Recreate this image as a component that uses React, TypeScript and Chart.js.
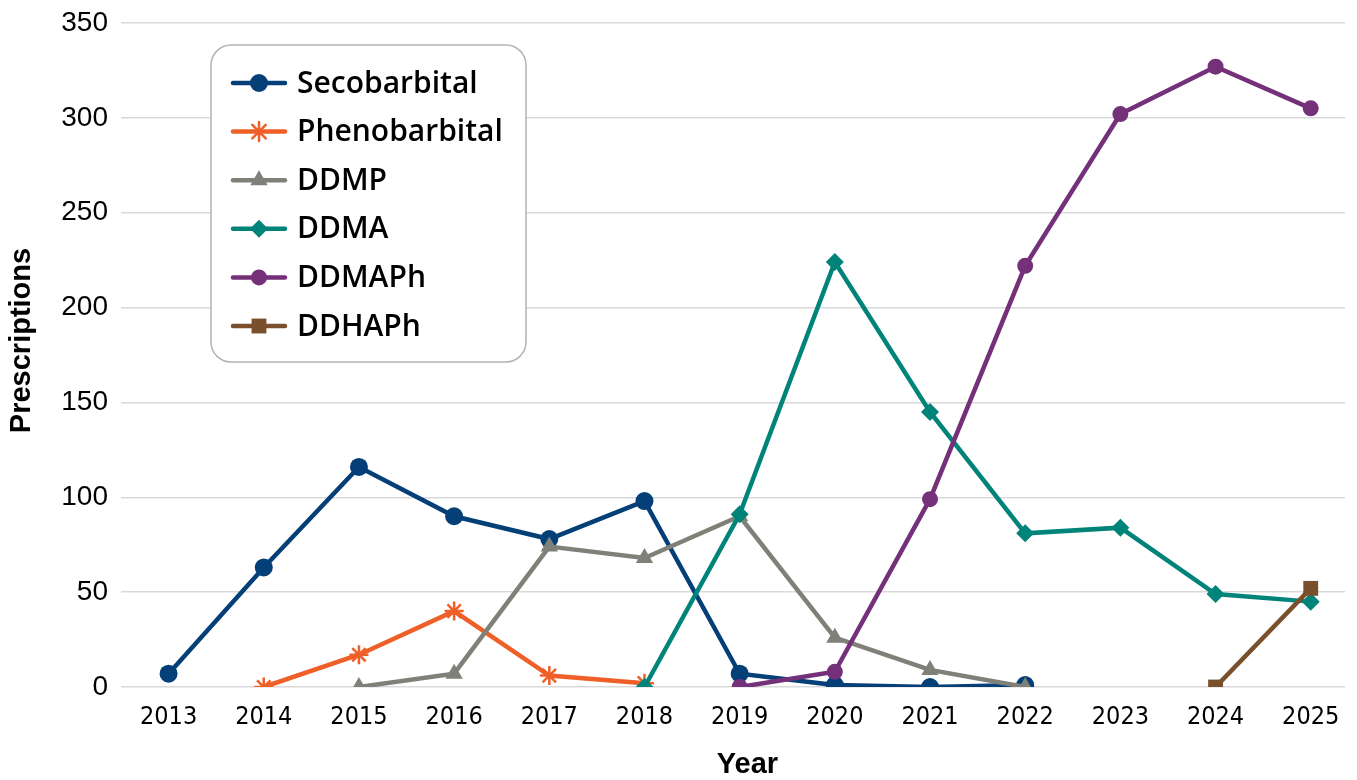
import React, { useEffect, useRef } from "react";
import { Chart, registerables } from "chart.js";

Chart.register(...registerables);

const years = [2013, 2014, 2015, 2016, 2017, 2018, 2019, 2020, 2021, 2022, 2023, 2024, 2025];
const secobarbital = [7, 63, 116, 90, 78, 98, 7, 1, 0, 1, null, null, null];
const phenobarbital = [null, 0, 17, 40, 6, 2, null, null, null, null, null, null, null];
const ddmp = [null, null, 0, 7, 74, 68, 90, 26, 9, 0, null, null, null];
const ddma = [null, null, null, null, null, 0, 91, 224, 145, 81, 84, 49, 45];
const ddmaph = [null, null, null, null, null, null, 0, 8, 99, 222, 302, 327, 305];
const ddhaph = [null, null, null, null, null, null, null, null, null, null, null, 0, 52];
const yTicks = [0, 50, 100, 150, 200, 250, 300, 350];

const seriesDefs = [
  { label: "Secobarbital", values: secobarbital, color: "#053f78", style: "circle", radius: 9 },
  { label: "Phenobarbital", values: phenobarbital, color: "#ef5f28", style: "star", radius: 9.5 },
  { label: "DDMP", values: ddmp, color: "#7f8077", style: "triangle", radius: 10 },
  { label: "DDMA", values: ddma, color: "#00847a", style: "rectRot", radius: 9 },
  { label: "DDMAPh", values: ddmaph, color: "#75307a", style: "circle", radius: 8 },
  { label: "DDHAPh", values: ddhaph, color: "#7a4f2b", style: "rect", radius: 10.5 },
];

function drawMarker(ctx: CanvasRenderingContext2D, style: string, x: number, y: number, r: number, color: string) {
  ctx.save();
  ctx.fillStyle = color;
  ctx.strokeStyle = color;
  ctx.beginPath();
  if (style === "circle") {
    ctx.arc(x, y, r, 0, Math.PI * 2);
    ctx.fill();
  } else if (style === "rect") {
    const s = Math.SQRT1_2 * r;
    ctx.rect(x - s, y - s, 2 * s, 2 * s);
    ctx.fill();
  } else if (style === "rectRot") {
    ctx.moveTo(x - r, y);
    ctx.lineTo(x, y + r);
    ctx.lineTo(x + r, y);
    ctx.lineTo(x, y - r);
    ctx.closePath();
    ctx.fill();
  } else if (style === "triangle") {
    ctx.moveTo(x - r * 0.866, y + r * 0.5);
    ctx.lineTo(x + r * 0.866, y + r * 0.5);
    ctx.lineTo(x, y - r);
    ctx.closePath();
    ctx.fill();
  } else if (style === "star") {
    ctx.lineWidth = 2.5;
    for (let k = 0; k < 4; k++) {
      const a = (k * Math.PI) / 4;
      ctx.moveTo(x - Math.cos(a) * r, y - Math.sin(a) * r);
      ctx.lineTo(x + Math.cos(a) * r, y + Math.sin(a) * r);
    }
    ctx.stroke();
  }
  ctx.restore();
}

const legendBoxPlugin = {
  id: "legendBox",
  afterDraw(chart: any) {
    const ctx: CanvasRenderingContext2D = chart.ctx;
    const area = chart.chartArea;
    const bx = area.left + 90;
    const by = area.top + 22;
    const bw = 315;
    const bh = 317;
    const rad = 20;
    ctx.save();
    ctx.beginPath();
    ctx.moveTo(bx + rad, by);
    ctx.lineTo(bx + bw - rad, by);
    ctx.arcTo(bx + bw, by, bx + bw, by + rad, rad);
    ctx.lineTo(bx + bw, by + bh - rad);
    ctx.arcTo(bx + bw, by + bh, bx + bw - rad, by + bh, rad);
    ctx.lineTo(bx + rad, by + bh);
    ctx.arcTo(bx, by + bh, bx, by + bh - rad, rad);
    ctx.lineTo(bx, by + rad);
    ctx.arcTo(bx, by, bx + rad, by, rad);
    ctx.closePath();
    ctx.fillStyle = "#ffffff";
    ctx.fill();
    ctx.lineWidth = 1.5;
    ctx.strokeStyle = "#b3b3b3";
    ctx.stroke();

    const rowStart = by + 38;
    const rowGap = 48.6;
    chart.data.datasets.forEach((ds: any, i: number) => {
      const cy = rowStart + i * rowGap;
      const lx1 = bx + 22;
      const lx2 = bx + 74;
      ctx.beginPath();
      ctx.lineCap = "round";
      ctx.lineWidth = 4.5;
      ctx.strokeStyle = ds.borderColor;
      ctx.moveTo(lx1, cy);
      ctx.lineTo(lx2, cy);
      ctx.stroke();
      drawMarker(ctx, ds.pointStyle, (lx1 + lx2) / 2, cy, ds.pointRadius, ds.borderColor);
      ctx.fillStyle = "#000000";
      ctx.font = "600 30px 'Open Sans', 'Noto Sans', sans-serif";
      ctx.textBaseline = "middle";
      ctx.textAlign = "left";
      ctx.fillText(ds.label, bx + 86, cy + 1);
    });
    ctx.restore();
  },
};

export default function App() {
  const canvasRef = useRef<HTMLCanvasElement | null>(null);

  useEffect(() => {
    const canvas = canvasRef.current;
    if (!canvas) return;
    const datasets = seriesDefs.map((s, i) => ({
      label: s.label,
      data: years.map((yr, j) => ({ x: yr, y: s.values[j] })),
      borderColor: s.color,
      backgroundColor: s.color,
      borderWidth: 4.5,
      pointStyle: s.style,
      pointRadius: s.radius,
      pointBorderWidth: s.style === "star" ? 2.5 : 0,
      pointBackgroundColor: s.color,
      pointBorderColor: s.color,
      tension: 0,
      spanGaps: false,
      order: seriesDefs.length - i,
    }));

    const chart = new Chart(canvas, {
      type: "line",
      data: { datasets },
      plugins: [legendBoxPlugin],
      options: {
        responsive: false,
        animation: false,
        devicePixelRatio: 1,
        layout: { padding: { top: 23, right: 8, bottom: 0, left: 0 } },
        plugins: {
          legend: { display: false },
          tooltip: { enabled: false },
        },
        scales: {
          x: {
            type: "linear",
            min: 2012.5,
            max: 2025.36,
            afterFit: (s: any) => {
              s.height = 93;
              s.paddingLeft = 0;
              s.paddingRight = 0;
            },
            ticks: {
              stepSize: 1,
              includeBounds: false,
              autoSkip: false,
              maxRotation: 0,
              padding: 15,
              color: "#000000",
              font: { family: "'Liberation Sans Narrow', 'DejaVu Sans Condensed', sans-serif", size: 25 },
              callback: (v: any) => (Number.isInteger(v) && years.includes(v) ? String(v) : null),
            },
            grid: { display: false, drawTicks: false },
            border: { display: false },
            title: {
              display: true,
              text: "\u2002\u2002Year",
              color: "#000000",
              font: { family: "'Liberation Sans', Arial, sans-serif", size: 29, weight: "bold", lineHeight: 1 },
              padding: { top: 0, bottom: 1 },
            },
          },
          y: {
            min: 0,
            max: 350,
            afterFit: (s: any) => {
              s.width = 121;
              s.paddingTop = 0;
              s.paddingBottom = 0;
            },
            afterBuildTicks: (s: any) => {
              s.ticks = yTicks.map((v) => ({ value: v }));
            },
            ticks: {
              padding: 13,
              color: "#000000",
              font: { family: "'Liberation Sans', Arial, sans-serif", size: 28 },
            },
            grid: { color: "#d9d9d9", lineWidth: 1.5, drawTicks: false },
            border: { display: false },
            title: {
              display: true,
              text: "\u2002\u2002Prescriptions",
              color: "#000000",
              font: { family: "'Liberation Sans', Arial, sans-serif", size: 29, weight: "bold", lineHeight: 1 },
              padding: { top: 7, bottom: 0 },
            },
          },
        },
      } as any,
    });
    return () => chart.destroy();
  }, []);

  return (
    <div style={{ position: "fixed", left: 0, top: 0, width: 1357, height: 780, background: "#ffffff" }}>
      <canvas ref={canvasRef} width={1357} height={780} style={{ display: "block" }} />
    </div>
  );
}
